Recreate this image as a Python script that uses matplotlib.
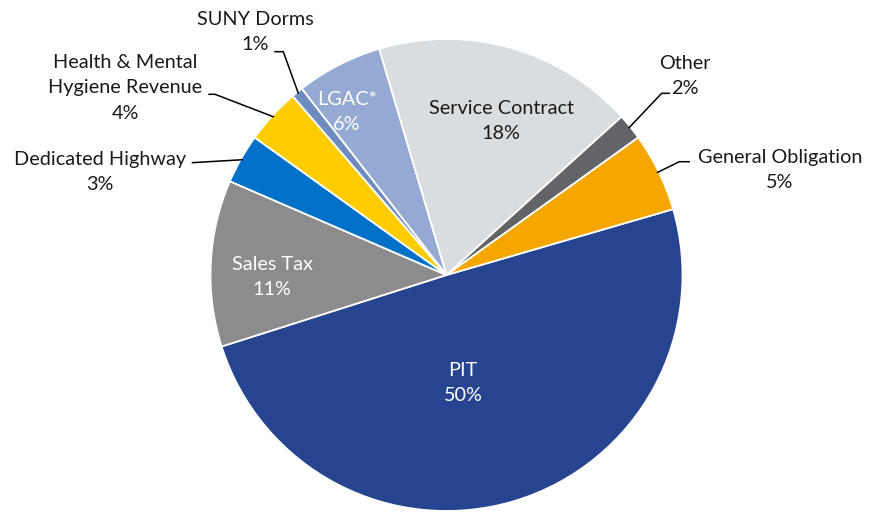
import matplotlib
matplotlib.use("Agg")
import matplotlib.pyplot as plt
import numpy as np

plt.rcParams['font.family'] = ['Lato', 'DejaVu Sans']

categories = ["PIT", "Sales Tax", "Dedicated Highway", "Health & Mental\nHygiene Revenue",
              "SUNY Dorms", "LGAC*", "Service Contract", "Other", "General Obligation"]
shares = [49.6, 11.4, 3.4, 3.8, 0.8, 5.9, 17.9, 1.8, 5.4]
pct_labels = ["50%", "11%", "3%", "4%", "1%", "6%", "18%", "2%", "5%"]
colors = ["#264490", "#8C8C8E", "#0070C8", "#FFCC00", "#6F8CC0",
          "#94AAD2", "#D9DDE0", "#636467", "#F5A700"]

W, H = 872, 512
fig = plt.figure(figsize=(W / 100, H / 100), dpi=100)
ax = fig.add_axes([0, 0, 1, 1])

cx, cy, R = 446.5, H - 275, 236
wedges, _ = ax.pie(shares, colors=colors, startangle=16.2, counterclock=False,
                   center=(cx, cy), radius=R, frame=True,
                   wedgeprops=dict(edgecolor='white', linewidth=1.3))
ax.set_xlim(0, W)
ax.set_ylim(0, H)
ax.set_aspect('equal')
ax.axis('off')

fs = 14.3
ls = 1.62
# inside labels: (index, x, y_pixel, color)
inside = [(0, 463, 383, 'white'), (1, 272, 277, 'white'),
          (5, 347, 112, 'white'), (6, 501, 121, '#1a1a1a')]
for i, x, yp, c in inside:
    ax.text(x, H - yp, f"{categories[i]}\n{pct_labels[i]}", ha='center', va='center',
            color=c, fontsize=fs, linespacing=ls)

# outside labels: (index, text x, text y_pixel, elbow pts in pixels)
outside = [
    (4, 255, 32, [(283.3, 51.7), (274.3, 51.7)]),
    (3, 125, 88, [(215, 94.3), (208.3, 94.3)]),
    (2, 100, 172, [(191.7, 162.7)]),
    (7, 685, 76, [(661.7, 93.3), (670, 93.3)]),
    (8, 780, 170, [(679.3, 161.7), (690, 161.7)]),
]
for i, x, yp, pts in outside:
    ax.text(x, H - yp, f"{categories[i]}\n{pct_labels[i]}", ha='center', va='center',
            color='#1a1a1a', fontsize=fs, linespacing=ls)
    w = wedges[i]
    mid = np.deg2rad((w.theta1 + w.theta2) / 2)
    sx = cx + (R - 2) * np.cos(mid)
    sy = cy + (R - 2) * np.sin(mid)
    xs = [sx] + [p[0] for p in pts]
    ys = [sy] + [H - p[1] for p in pts]
    ax.plot(xs, ys, color='black', lw=1.1, solid_capstyle='butt')

fig.savefig("out.png", dpi=100)
